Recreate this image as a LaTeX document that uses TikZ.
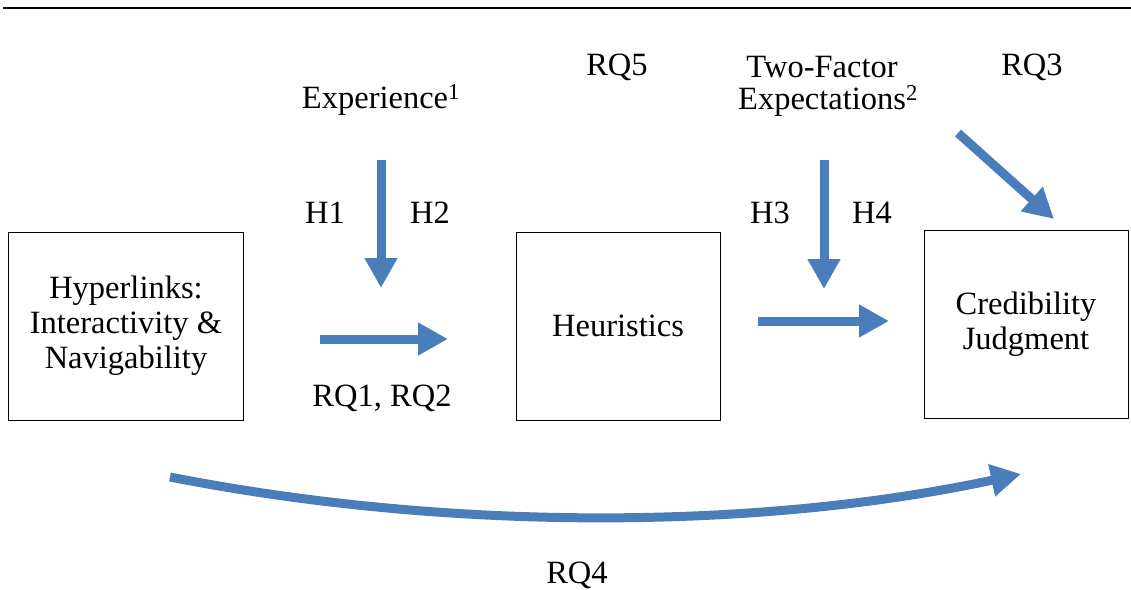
\documentclass[tikz,border=0pt]{standalone}
\usepackage{fontspec}
\setmainfont{Liberation Serif}
\usetikzlibrary{arrows.meta}
\definecolor{linkblue}{RGB}{74,126,187}
\tikzset{
    flow/.style={draw=linkblue,line width=9pt,-{Triangle[length=30pt,width=31pt]}},
    stage/.style={draw,thick,minimum width=235pt,minimum height=188pt,align=center},
    label/.style={inner sep=0pt}
}
\begin{document}
\begin{tikzpicture}[x=1pt,y=-1pt,font=\fontsize{32.5}{35}\selectfont]
        \useasboundingbox (0,0) rectangle (1131,589);
        \draw[line width=2.5pt] (3,8) -- (1131,8);
        \begin{scope}[every node/.style={stage}]
            \node (L) at (126,326) {Hyperlinks:\\Interactivity \&\\Navigability};
            \node[minimum width=204pt] (H) at (618,326) {Heuristics};
            \node[minimum width=204pt] (C) at (1026,324) {Credibility\\Judgment};
        \end{scope}
        \begin{scope}[every node/.style={label}]
            \node (exp) at (381,100) {Experience\textsuperscript{1}};
            \node (rq5) at (617,67) {RQ5};
            \node (tf) at (822,67) {Two-Factor};
            \node (ex2) at (828,101) {Expectations\textsuperscript{2}};
            \node (rq3) at (1032,67) {RQ3};
            \node (h1) at (325,213) {H1};
            \node (h2) at (430,213) {H2};
            \node (h3) at (770,213) {H3};
            \node (h4) at (872,213) {H4};
            \node (rq12) at (382,398) {RQ1, RQ2};
            \node (rq4) at (577,575) {RQ4};
        \end{scope}
        \coordinate (a1) at (381,160);
        \coordinate (b1) at (381,288);
        \coordinate (a2) at (824,160);
        \coordinate (b2) at (824,289);
        \coordinate (a3) at (320,339);
        \coordinate (b3) at (448,339);
        \coordinate (a4) at (758,321);
        \coordinate (b4) at (889,321);
        \coordinate (a5) at (958,133);
        \coordinate (b5) at (1054,219);
        \coordinate (a6) at (170,477);
        \coordinate (b6) at (1021,474);
        \draw[flow] (a1) -- (b1);
        \draw[flow] (a2) -- (b2);
        \draw[flow] (a3) -- (b3);
        \draw[flow] (a4) -- (b4);
        \draw[flow] (a5) -- (b5);
        \draw[flow] (a6) .. controls (450,532) and (760,530) .. (b6);
    \end{tikzpicture}
\end{document}
